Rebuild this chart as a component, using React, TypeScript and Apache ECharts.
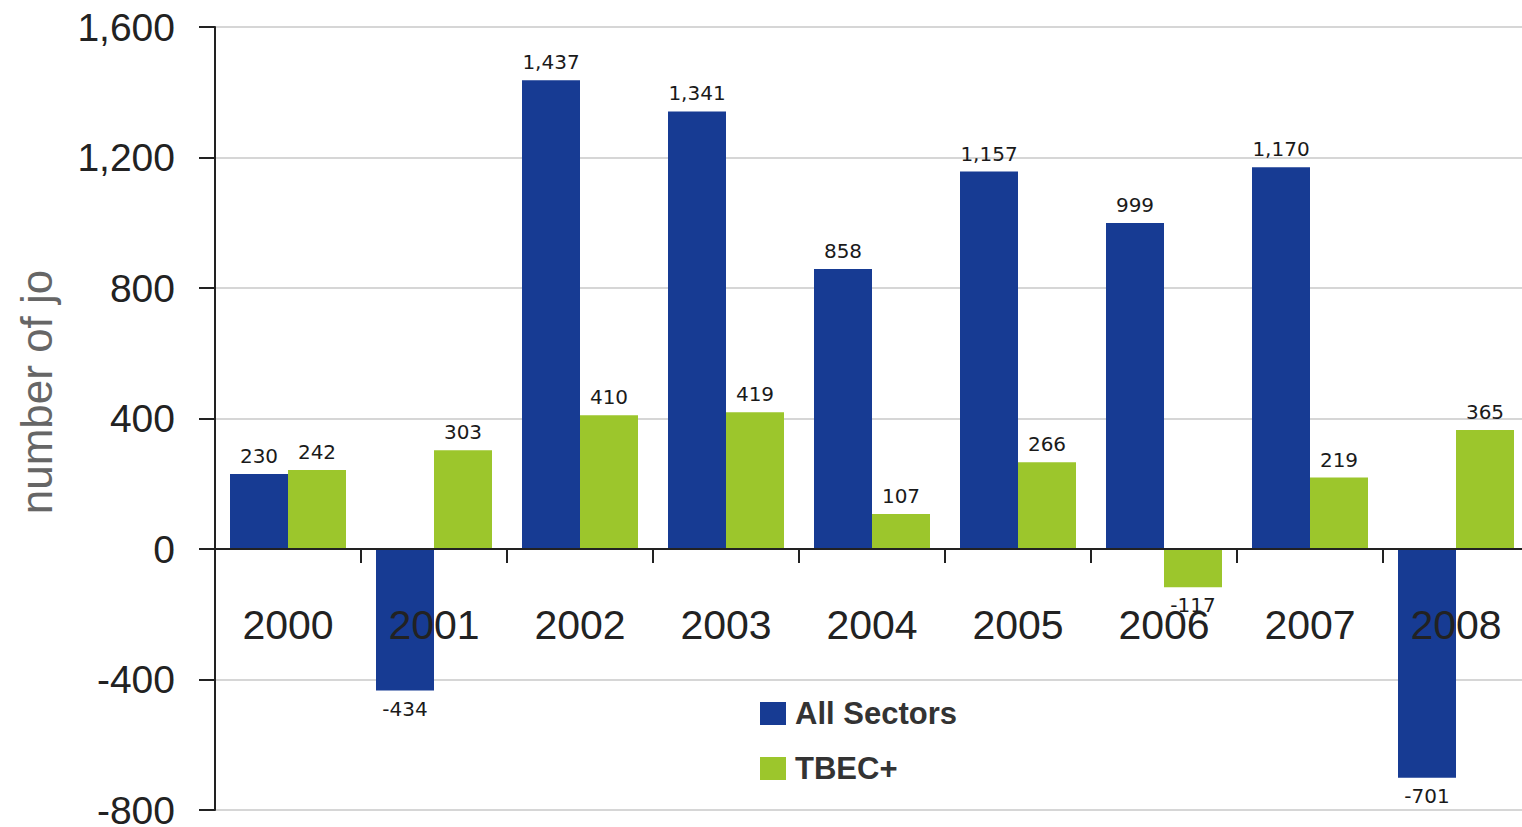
import React, { useEffect, useRef } from "react";
import * as echarts from "echarts";

const categories = ["2000", "2001", "2002", "2003", "2004", "2005", "2006", "2007", "2008"];
const allSectors = [230, -434, 1437, 1341, 858, 1157, 999, 1170, -701];
const tbecPlus = [242, 303, 410, 419, 107, 266, -117, 219, 365];
const seriesNames = ["All Sectors", "TBEC+"];
const yAxisTitle = "number of jo";

const BLUE = "#173b93";
const GREEN = "#9cc62c";
const FONT = "'Liberation Sans', Arial, sans-serif";
const LABEL_FONT = "'DejaVu Sans', 'Liberation Sans', sans-serif";

const Y_MIN = -800;
const Y_MAX = 1600;
const GRID_TOP = 27;
const GRID_H = 783;

function fmt(v: number) {
  return v.toLocaleString("en-US");
}

function buildData(values: number[]) {
  return values.map((v) => ({
    value: v,
    label: { position: v < 0 ? "bottom" : "top" },
  }));
}

export default function App() {
  const ref = useRef<HTMLDivElement>(null);
  useEffect(() => {
    if (!ref.current) return;
    const chart = echarts.init(ref.current, undefined, { renderer: "svg" });
    const label = {
      show: true,
      distance: 8,
      color: "#1a1a1a",
      fontFamily: LABEL_FONT,
      fontSize: 20,
      formatter: (p: any) => fmt(p.value),
    };
    const zeroOffset = -(GRID_H * (0 - Y_MIN)) / (Y_MAX - Y_MIN);
    chart.setOption({
      animation: false,
      backgroundColor: "#fff",
      grid: {
        left: 215,
        top: GRID_TOP,
        width: 1314,
        height: GRID_H,
        containLabel: false,
        outerBoundsMode: "none",
      },
      legend: {
        orient: "vertical",
        left: 760,
        top: 698,
        padding: 0,
        itemWidth: 26,
        itemHeight: 23,
        itemGap: 24,
        icon: "rect",
        data: seriesNames,
        textStyle: {
          fontFamily: FONT,
          fontSize: 31,
          fontWeight: "bold",
          color: "#333",
          padding: [0, 0, 0, 4],
        },
      },
      graphic: [
        {
          type: "text",
          x: 36,
          y: 392,
          rotation: Math.PI / 2,
          style: {
            text: yAxisTitle,
            fontFamily: FONT,
            fontSize: 44,
            fill: "#666",
            align: "center",
            verticalAlign: "middle",
          },
        },
      ],
      xAxis: {
        type: "category",
        data: categories,
        z: 10,
        position: "bottom",
        offset: zeroOffset,
        axisLine: { onZero: false, lineStyle: { color: "#222", width: 2 } },
        axisTick: { show: true, alignWithLabel: false, length: 14, lineStyle: { color: "#222", width: 2 } },
        axisLabel: { margin: 55, fontFamily: FONT, fontSize: 41, color: "#222" },
        splitLine: { show: false },
      },
      yAxis: {
        type: "value",
        min: Y_MIN,
        max: Y_MAX,
        interval: 400,
        axisLine: { show: true, lineStyle: { color: "#222", width: 2 } },
        axisTick: { show: true, length: 16, lineStyle: { color: "#222", width: 2 } },
        axisLabel: {
          margin: 40,
          fontFamily: FONT,
          fontSize: 39,
          color: "#222",
          formatter: (v: number) => fmt(v),
        },
        splitLine: { show: true, lineStyle: { color: "#c8c8c8", width: 1.5 } },
      },
      series: [
        {
          name: seriesNames[0],
          type: "bar",
          data: buildData(allSectors),
          barWidth: 58,
          barGap: "0%",
          itemStyle: { color: BLUE },
          label,
        },
        {
          name: seriesNames[1],
          type: "bar",
          data: buildData(tbecPlus),
          barWidth: 58,
          barGap: "0%",
          itemStyle: { color: GREEN },
          label,
        },
      ],
    });
    return () => chart.dispose();
  }, []);
  return (
    <div
      ref={ref}
      style={{ position: "absolute", left: 0, top: 0, width: 1522, height: 827, overflow: "hidden" }}
    />
  );
}
